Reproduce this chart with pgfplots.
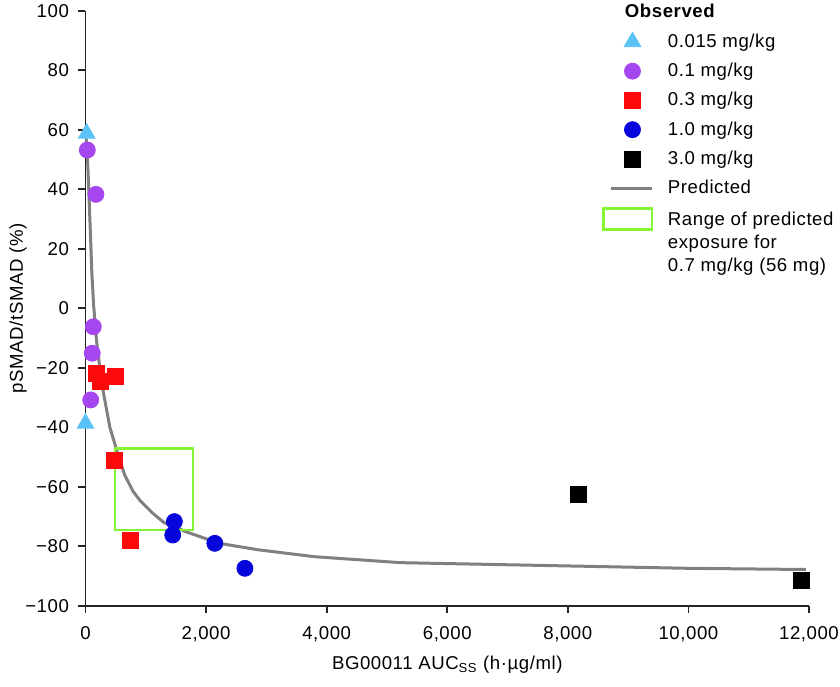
\documentclass[border=0pt]{standalone}
\usepackage{fontspec}
\setmainfont{Liberation Sans}[LetterSpace=3]
\usepackage{pgfplots}
\pgfplotsset{compat=1.18}

\definecolor{ltblue}{HTML}{5BC2F7}
\definecolor{purp}{HTML}{A646EE}
\definecolor{myred}{HTML}{FA0A0A}
\definecolor{myblue}{HTML}{0505DC}
\definecolor{mygreen}{HTML}{84F530}
\definecolor{predgray}{HTML}{808080}

\pgfplotsset{
  markleg/.style={legend image code/.code={
      \path[draw=none,fill=none] (0pt,-4pt) rectangle (25.5pt,4pt);
      \draw[##1] plot coordinates {(15pt,0pt)};}},
}

\begin{document}
\fontsize{9.3}{11.5}\selectfont
\begin{tikzpicture}
\begin{axis}[
    scale only axis,
    width=361.75pt, height=297.5pt,
    xmin=0, xmax=12000, ymin=-100, ymax=100,
    axis x line=bottom, axis y line=left,
    axis line style={-, line width=0.9pt, black!85},
    tick align=outside, major tick length=3.5pt,
    tick style={line width=0.9pt, black!85},
    scaled x ticks=false,
    xtick={0,2000,...,12000},
    xticklabels={0,{2,000},{4,000},{6,000},{8,000},{10,000},{12,000}},
    ytick={-100,-80,...,100},
    yticklabels={−100,−80,−60,−40,−20,0,20,40,60,80,100},
    xticklabel style={yshift=-3.7pt},
    yticklabel style={xshift=-1.5pt},
    xlabel={BG00011 AUC\textsubscript{SS} (h·µg/ml)},
    ylabel={pSMAD/tSMAD (\%)},
    every axis x label/.style={at={(axis description cs:0.5,-0.0995)}, anchor=center},
    every axis y label/.style={at={(axis description cs:-0.0933,0.5)}, rotate=90, anchor=center},
    clip=false,
    legend cell align=left,
    legend style={at={(0.714,1.018)}, anchor=north west, draw=none, fill=none,
        inner sep=0pt, row sep=2.5pt, font=\fontsize{9.3}{11.5}\selectfont,
        /tikz/every odd column/.append style={column sep=5pt}},
]
% predicted curve
\addplot[predgray, line width=1.5pt, forget plot] coordinates {
  (12,57) (30,52) (50,42) (80,26) (105,12) (135,1) (184,-11) (267,-25)
  (404,-40) (568,-51) (650,-56) (788,-61.5) (900,-64.5) (1117,-68.9)
  (1300,-72) (1667,-75.1) (2216,-79) (2875,-81.2) (3800,-83.5) (5230,-85.5)
  (8000,-86.6) (10000,-87.4) (11950,-87.8)};
% predicted exposure range
\addplot[mygreen, line width=1.2pt, forget plot] coordinates {
  (486,-47.1) (1787,-47.1) (1787,-74.5) (486,-74.5) (486,-47.1)};

\addlegendimage{empty legend}
\addlegendentry{\hspace*{-21.5pt}\textbf{Observed}}

\addplot[only marks, mark=triangle*, mark size=4.8pt, ltblue, markleg] coordinates {
  (20,58.8) (0,-38.7)};
\addlegendentry{0.015 mg/kg}
\addplot[only marks, mark=*, mark size=4pt, purp, markleg] coordinates {
  (30,53.2) (173,38.3) (130,-6.2) (112,-15.1) (86,-30.8)};
\addlegendentry{0.1 mg/kg}
\addplot[only marks, mark=square*, mark size=4pt, myred, markleg] coordinates {
  (173,-21.8) (240,-24.7) (497,-23) (486,-51) (750,-77.9)};
\addlegendentry{0.3 mg/kg}
\addplot[only marks, mark=*, mark size=4pt, myblue, markleg] coordinates {
  (1474,-71.7) (1447,-76.2) (2145,-79) (2644,-87.4)};
\addlegendentry{1.0 mg/kg}
\addplot[only marks, mark=square*, mark size=4pt, black, markleg] coordinates {
  (8175,-62.4) (11866,-91.3)};
\addlegendentry{3.0 mg/kg}

\addlegendimage{legend image code/.code={
    \path[draw=none,fill=none] (0pt,-4pt) rectangle (25.5pt,4pt);
    \draw[predgray, line width=1.5pt] (4.5pt,0pt) -- (25pt,0pt);}}
\addlegendentry{Predicted}
\addlegendimage{legend image code/.code={
    \path[draw=none,fill=none] (0pt,-5.25pt) rectangle (25.5pt,5.25pt);
    \draw[mygreen, line width=1.2pt] (0.6pt,-5.25pt) rectangle (24.9pt,5.25pt);}}
\addlegendentry{\begin{tabular}[t]{@{}l@{}}Range of predicted\\exposure for\\0.7 mg/kg (56 mg)\end{tabular}}
\end{axis}
\pgfresetboundingbox
\useasboundingbox (-42.75pt,-40.1pt) rectangle (377.25pt,302.9pt);
\end{tikzpicture}
\end{document}
